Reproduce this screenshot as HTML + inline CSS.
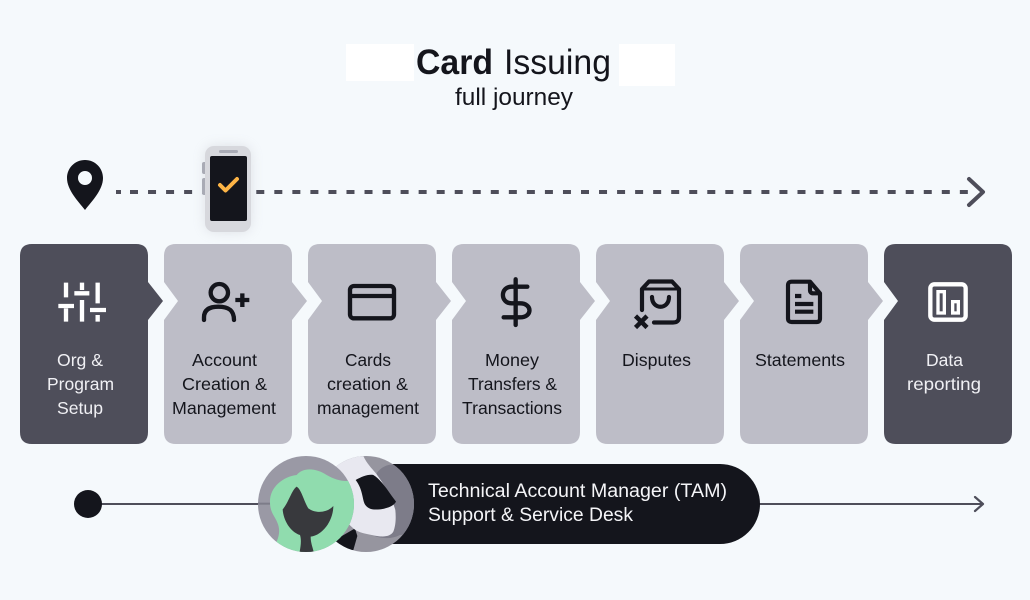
<!DOCTYPE html>
<html lang="en">
<head>
<meta charset="utf-8">
<title>Card Issuing full journey</title>
<style>
html,body{margin:0;padding:0;background:#f5f9fc;}
svg{display:block;}
text{font-family:"Liberation Sans",sans-serif;}
.l{font-size:17.5px;fill:#14151c;}
.w{font-size:17.5px;fill:#f0f0f4;}
</style>
</head>
<body>
<svg width="1030" height="600" viewBox="0 0 1030 600" xmlns="http://www.w3.org/2000/svg">
<defs>
<clipPath id="cl"><circle cx="198" cy="162" r="144"/></clipPath>
<clipPath id="cr"><circle cx="378" cy="162" r="144"/></clipPath>
<filter id="soft" x="-40%" y="-40%" width="180%" height="180%"><feGaussianBlur stdDeviation="6"/></filter>
</defs>
<rect width="1030" height="600" fill="#f5f9fc"/>

<!-- Title -->
<rect x="346" y="44" width="68" height="37" fill="#fff"/>
<rect x="619" y="44" width="56" height="42" fill="#fff"/>
<text x="416" y="74" font-size="35" font-weight="700" fill="#14151c" textLength="77" lengthAdjust="spacingAndGlyphs">Card</text>
<text x="504" y="74" font-size="35" fill="#14151c" textLength="107" lengthAdjust="spacingAndGlyphs">Issuing</text>
<text x="455" y="105" font-size="24" fill="#14151c" textLength="118" lengthAdjust="spacingAndGlyphs">full journey</text>

<!-- Pin -->
<path fill-rule="evenodd" fill="#14151c" d="M85,160 C95,160 103,168 103,178 C103,190 92,201 85,210 C78,201 67,190 67,178 C67,168 75,160 85,160 Z M85,171 A7,7 0 1 0 85,185 A7,7 0 1 0 85,171 Z"/>

<!-- Dashed path -->
<path d="M116,192 H121" stroke="#4e4e5a" stroke-width="4"/>
<path d="M130,192 H968" stroke="#4e4e5a" stroke-width="4" stroke-dasharray="8 10.04" fill="none"/>
<path d="M969,179 L983,192 L969,205" fill="none" stroke="#4e4e5a" stroke-width="4" stroke-linecap="round" stroke-linejoin="round"/>

<!-- Phone -->
<rect x="205" y="146" width="46" height="86" rx="10" fill="#9a9aa5" opacity=".25" filter="url(#soft)"/>
<rect x="202" y="162" width="5" height="12" rx="2" fill="#a9abb5"/>
<rect x="202" y="178" width="5" height="17" rx="2" fill="#a9abb5"/>
<rect x="205" y="146" width="46" height="86" rx="9" fill="#d7d8dd"/>
<rect x="219" y="150" width="19" height="3" rx="1.500" fill="#a9abb5"/>
<rect x="210" y="156" width="37" height="65" rx="2" fill="#14151c"/>
<path d="M220,185 L225.500,190.500 L237,179" fill="none" stroke="#fdb446" stroke-width="4" stroke-linecap="round" stroke-linejoin="round"/>

<!-- Cards -->
<path fill="#4e4e5a" d="M32,244 H136 Q148,244 148,256 V282 L163,301 L148,320 V432 Q148,444 136,444 H32 Q20,444 20,432 V256 Q20,244 32,244 Z"/>
<path fill="#bdbdc7" d="M176,244 H280 Q292,244 292,256 V282 L307,301 L292,320 V432 Q292,444 280,444 H176 Q164,444 164,432 V320 L178,301 L164,282 V256 Q164,244 176,244 Z"/>
<path fill="#bdbdc7" d="M320,244 H424 Q436,244 436,256 V282 L451,301 L436,320 V432 Q436,444 424,444 H320 Q308,444 308,432 V320 L322,301 L308,282 V256 Q308,244 320,244 Z"/>
<path fill="#bdbdc7" d="M464,244 H568 Q580,244 580,256 V282 L595,301 L580,320 V432 Q580,444 568,444 H464 Q452,444 452,432 V320 L466,301 L452,282 V256 Q452,244 464,244 Z"/>
<path fill="#bdbdc7" d="M608,244 H712 Q724,244 724,256 V282 L739,301 L724,320 V432 Q724,444 712,444 H608 Q596,444 596,432 V320 L610,301 L596,282 V256 Q596,244 608,244 Z"/>
<path fill="#bdbdc7" d="M752,244 H856 Q868,244 868,256 V282 L883,301 L868,320 V432 Q868,444 856,444 H752 Q740,444 740,432 V320 L754,301 L740,282 V256 Q740,244 752,244 Z"/>
<path fill="#4e4e5a" d="M896,244 H1000 Q1012,244 1012,256 V432 Q1012,444 1000,444 H896 Q884,444 884,432 V320 L898,301 L884,282 V256 Q884,244 896,244 Z"/>

<!-- Card labels -->
<text class="w" x="57" y="366" textLength="46" lengthAdjust="spacingAndGlyphs">Org &amp;</text>
<text class="w" x="47" y="390" textLength="67" lengthAdjust="spacingAndGlyphs">Program</text>
<text class="w" x="57" y="414" textLength="46" lengthAdjust="spacingAndGlyphs">Setup</text>

<text class="l" x="192" y="366" textLength="65" lengthAdjust="spacingAndGlyphs">Account</text>
<text class="l" x="182" y="390" textLength="85" lengthAdjust="spacingAndGlyphs">Creation &amp;</text>
<text class="l" x="172" y="414" textLength="104" lengthAdjust="spacingAndGlyphs">Management</text>

<text class="l" x="345" y="366" textLength="46" lengthAdjust="spacingAndGlyphs">Cards</text>
<text class="l" x="327" y="390" textLength="81" lengthAdjust="spacingAndGlyphs">creation &amp;</text>
<text class="l" x="317" y="414" textLength="102" lengthAdjust="spacingAndGlyphs">management</text>

<text class="l" x="485" y="366" textLength="54" lengthAdjust="spacingAndGlyphs">Money</text>
<text class="l" x="468" y="390" textLength="89" lengthAdjust="spacingAndGlyphs">Transfers &amp;</text>
<text class="l" x="462" y="414" textLength="100" lengthAdjust="spacingAndGlyphs">Transactions</text>

<text class="l" x="622" y="366" textLength="69" lengthAdjust="spacingAndGlyphs">Disputes</text>
<text class="l" x="755" y="366" textLength="90" lengthAdjust="spacingAndGlyphs">Statements</text>

<text class="w" x="926" y="366" textLength="37" lengthAdjust="spacingAndGlyphs">Data</text>
<text class="w" x="907" y="390" textLength="74" lengthAdjust="spacingAndGlyphs">reporting</text>

<!-- Icon: sliders -->
<g transform="translate(10,240) scale(.33333)" fill="none" stroke="#fff" stroke-width="13">
<path d="M168,128 V172 M145,198 H192 M168,205 V245"/>
<path d="M216,128 V150 M193,160 H238 M216,180 V245"/>
<path d="M263,128 V190 M240,210 H288 M263,225 V245"/>
</g>
<!-- Icon: person plus -->
<g transform="translate(10,240) scale(.33333)" fill="none" stroke="#14151c" stroke-width="13" stroke-linecap="round">
<circle cx="628" cy="158" r="26"/>
<path d="M582,240 V232 C582,208 600,200 625,200 C655,200 672,210 672,240"/>
<path d="M676,180 H718 M697,160 V201" stroke-linecap="butt"/>
</g>
<!-- Icon: card -->
<g transform="translate(340,240) scale(.33333)" fill="none" stroke="#14151c" stroke-width="13">
<rect x="30" y="138" width="132" height="97" rx="12"/>
<path d="M30,168 H162"/>
</g>
<!-- Icon: dollar -->
<g transform="translate(340,240) scale(.33333)" fill="none" stroke="#14151c" stroke-width="13" stroke-linecap="round">
<path d="M527,118 V255"/>
<path d="M562,140 H515 C480,140 480,190 515,190 H540 C578,190 578,232 540,232 H491"/>
</g>
<!-- Icon: bag -->
<g fill="none" stroke="#14151c">
<path d="M642,310 V289 L649,281.500 H672 L679,289 V317 Q679,322.500 673,322.500 H654" stroke-width="4.200" stroke-linecap="round" stroke-linejoin="round"/>
<path d="M642,289 H679" stroke-width="3"/>
<path d="M652,297 C652,310 669,310 669,297" stroke-width="4.200" stroke-linecap="round"/>
<path d="M635.500,316 L647,327.500 M647,316 L635.500,327.500" stroke-width="4.500"/>
</g>
<!-- Icon: document -->
<g transform="translate(680,240) scale(.33333)" fill="none" stroke="#14151c" stroke-width="12.500" stroke-linejoin="round">
<path d="M335,125 H390 L420,160 V235 Q420,246 410,246 H335 Q324,246 324,235 V136 Q324,125 335,125 Z"/>
<path d="M390,125 V150 Q390,160 400,160 H420"/>
<path d="M345,168 H364 M345,192 H400 M345,215 H400"/>
</g>
<!-- Icon: data -->
<g transform="translate(680,240) scale(.33333)" fill="none" stroke="#fff">
<rect x="751" y="133" width="106" height="106" rx="12" stroke-width="13"/>
<rect x="774" y="155" width="19" height="64" stroke-width="10"/>
<rect x="818" y="185" width="17" height="34" stroke-width="10"/>
</g>

<!-- Bottom line -->
<path d="M88,504 H982" stroke="#4e4e5a" stroke-width="2" fill="none"/>
<path d="M975,497 L983,504 L975,511" fill="none" stroke="#4e4e5a" stroke-width="2.200" stroke-linecap="round" stroke-linejoin="round"/>
<circle cx="88" cy="504" r="14" fill="#14151c"/>

<!-- Pill -->
<rect x="340" y="464" width="420" height="80" rx="40" fill="#14151c"/>
<text x="428" y="497" font-size="19" fill="#f5f5f8" textLength="299" lengthAdjust="spacingAndGlyphs">Technical Account Manager (TAM)</text>
<text x="428" y="521" font-size="19" fill="#f5f5f8" textLength="205" lengthAdjust="spacingAndGlyphs">Support &amp; Service Desk</text>

<!-- Avatars -->
<g transform="translate(240,450) scale(.33333)">
<circle cx="378" cy="162" r="144" fill="#96959f"/>
<g clip-path="url(#cr)">
<path fill="#7d7c89" d="M410,70 C425,48 450,40 470,45 L540,40 V250 L480,255 C450,270 420,265 395,255 Z"/>
<path fill="#14151c" d="M285,270 L345,235 L352,258 L340,300 L290,300 Z"/>
<path fill="#e8e8f0" d="M230,30 L370,18 C380,40 395,55 408,70 C430,100 455,140 466,180 C468,200 468,225 460,245 C450,262 425,262 395,255 C370,250 350,245 340,235 L280,180 Z"/>
<path fill="#14151c" d="M347,90 C365,80 385,72 400,75 C425,90 445,125 468,155 C462,168 440,176 420,178 C400,180 385,178 376,165 C366,150 370,120 347,90 Z"/>
</g>
<circle cx="198" cy="162" r="144" fill="#9a99a5"/>
<path d="M54,161 H90" stroke="#7d7c89" stroke-width="6"/>
<g clip-path="url(#cl)">
<path fill="#90dcae" d="M90,155 C90,110 130,80 170,75 C190,50 230,55 260,75 C285,90 310,95 328,92 L360,160 L340,320 L100,320 L110,275 C125,240 115,220 100,195 C92,180 90,170 90,155 Z"/>
<path fill="#38393d" d="M170,110 C185,120 190,150 205,175 C225,190 260,190 280,168 C280,210 250,255 212,260 C212,280 218,290 222,310 L178,310 C182,290 185,270 180,255 C150,245 130,210 128,178 C145,160 155,120 170,110 Z"/>
</g>
</g>
</svg>
</body>
</html>
